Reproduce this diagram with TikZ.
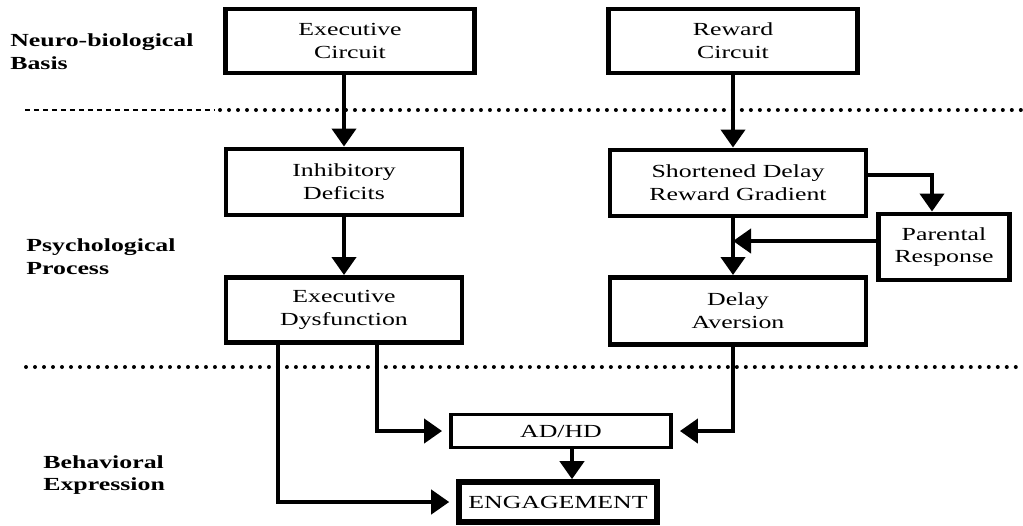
\documentclass[tikz,border=0pt]{standalone}
\usepackage{fontspec}
\setmainfont{Liberation Serif}[FakeStretch=1.4]
\usetikzlibrary{arrows.meta,calc,positioning}

\begin{document}
\begin{tikzpicture}[x=0.02cm, y=-0.02cm,
  box/.style={draw, line width=2.8pt, align=center, inner sep=0pt, font=\fontsize{10.5}{13}\selectfont},
  arr/.style={line width=2.3pt, -{Triangle[width=0.48cm,length=0.36cm]}},
  lbl/.style={anchor=west, align=left, inner sep=0pt, font=\fontsize{10.5}{13}\selectfont\bfseries},
  dots/.style={line width=0.08cm, line cap=round, dash pattern=on 0pt off 0.18cm}]
  \useasboundingbox (0,0) rectangle (1023,525);

  % levels
  \node[lbl] (nb) at (10,52) {Neuro-biological\\Basis};
  \node[lbl] (pp) at (26,257) {Psychological\\Process};
  \node[lbl] (be) at (43,475) {Behavioral\\Expression};

  % separators
  \draw[line width=0.7pt, dash pattern=on 0.1cm off 0.08cm] (25,110) -- (215,110);
  \draw[dots] (220,110) -- (1023,110);
  \draw[dots] (26,367) -- (1023,367);

  \node[box, minimum width=4.98cm, minimum height=1.28cm] (exec) at (350,41) {Executive\\Circuit};
  \node[box, minimum width=4.98cm, minimum height=1.28cm] (reward) at (733,41) {Reward\\Circuit};
  \node[box, minimum width=4.72cm, minimum height=1.32cm] (inhib) at (344,182) {Inhibitory\\Deficits};
  \node[box, minimum width=5.12cm, minimum height=1.32cm] (short) at (738,183) {Shortened Delay\\Reward Gradient};
  \node[box, minimum width=2.62cm, minimum height=1.32cm] (parent) at (944,247) {Parental\\Response};
  \node[box, minimum width=4.72cm, minimum height=1.30cm] (dysf) at (344,310) {Executive\\Dysfunction};
  \node[box, minimum width=5.12cm, minimum height=1.34cm] (delay) at (738,311) {Delay\\Aversion};
  \node[box, line width=2.2pt, minimum width=4.4cm, minimum height=0.66cm] (adhd) at (561,431) {AD/HD};
  \node[box, line width=3.2pt, minimum width=3.96cm, minimum height=0.8cm] (engage) at (558,502) {ENGAGEMENT};

  % left column
  \draw[arr] (exec.south -| inhib.north) -- (inhib.north);
  \draw[arr] (inhib.south) -- (dysf.north);

  % right column
  \draw[arr] (reward.south) -- (reward.south |- short.north);
  \draw[arr] (short.south -| reward.south) -- (delay.north -| reward.south);
  \draw[arr] ($(short.east)+(0,-8)$) -| ($(parent.north)+(-12,0)$);
  \coordinate (pr) at ($(parent.west)+(0,-6)$);
  \draw[arr] (pr) -- (pr -| reward.south);

  % to behaviour
  \draw[arr, shorten >=0.14cm] (delay.south -| reward.south) |- (adhd.east);
  \draw[arr, shorten >=0.14cm] ($(dysf.south)+(33,0)$) |- (adhd.west);
  \draw[arr, shorten >=0.14cm] ($(dysf.south)+(-66,0)$) |- (engage.west);
  \coordinate (ae) at ($(adhd.south)+(11,0)$);
  \draw[arr] (ae) -- (ae |- engage.north);
\end{tikzpicture}
\end{document}
